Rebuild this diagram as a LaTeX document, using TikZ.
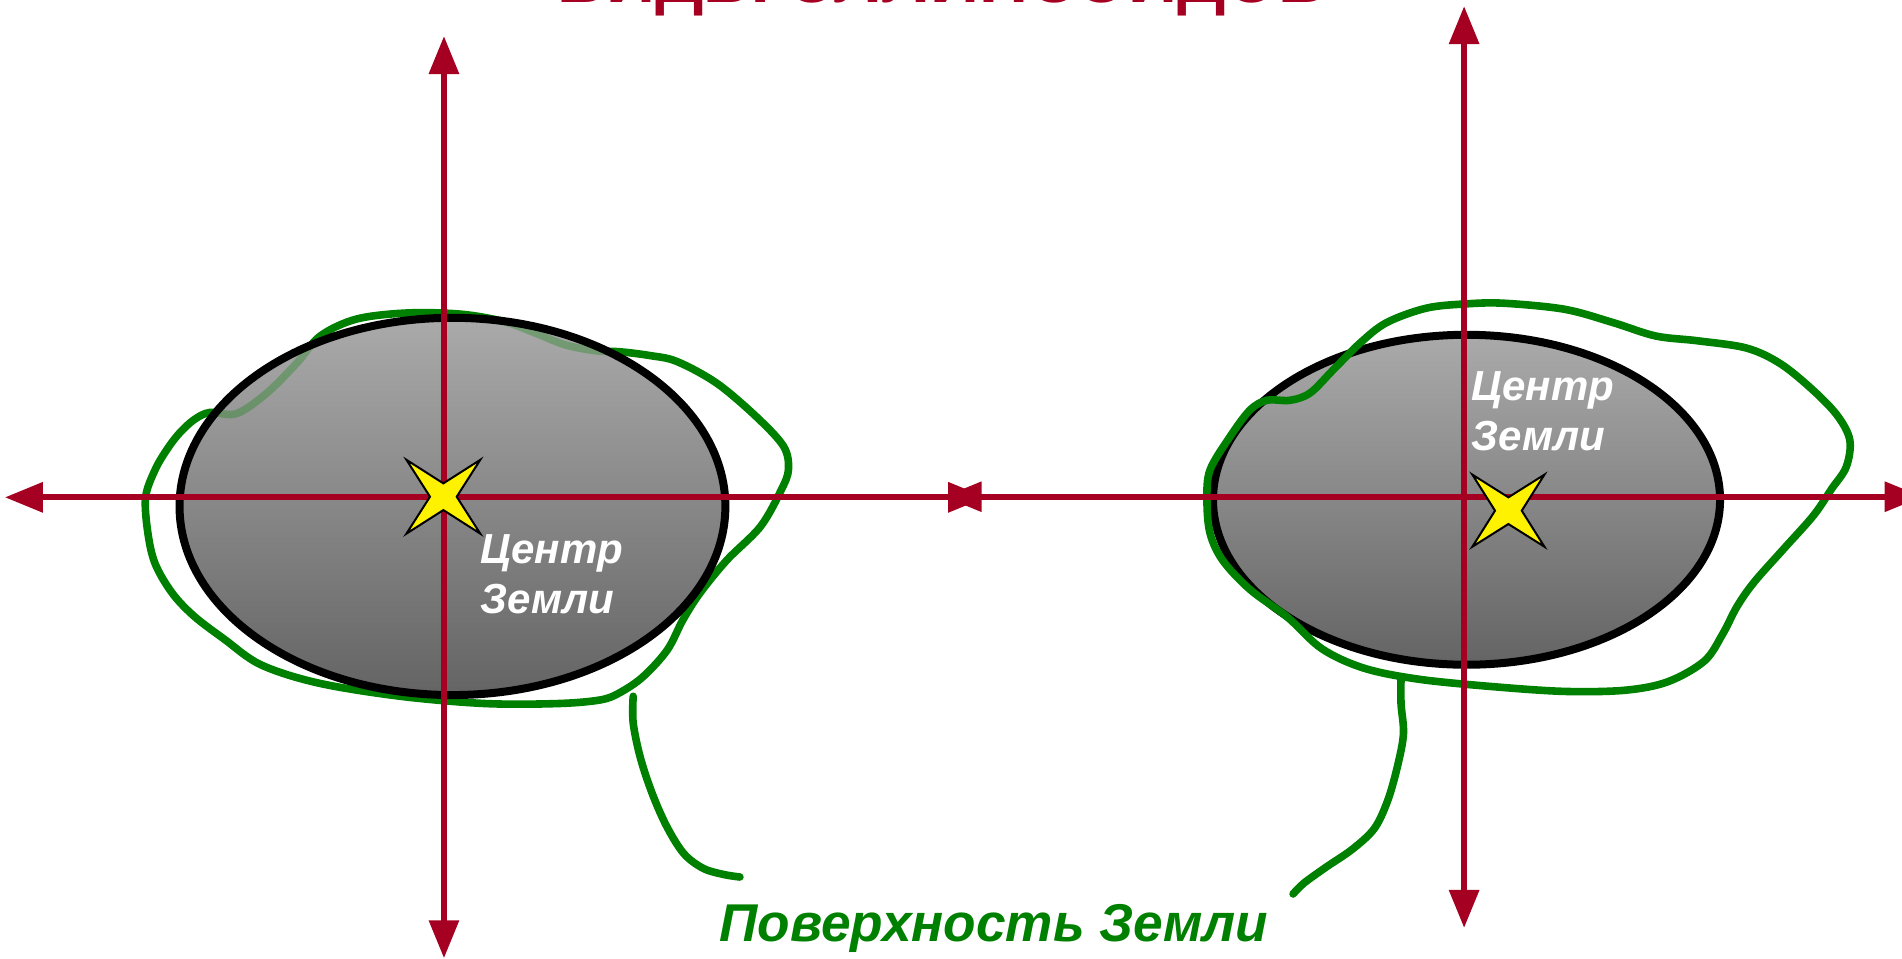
\documentclass[tikz,border=0pt]{standalone}
\usepackage{fontspec}
\setmainfont{Liberation Sans}
\usetikzlibrary{arrows.meta,shapes.geometric}
\definecolor{axisred}{RGB}{165,0,33}
\definecolor{surfgreen}{RGB}{0,128,0}
\definecolor{geotop}{RGB}{170,170,170}
\definecolor{geobot}{RGB}{100,100,100}
\begin{document}
\begin{tikzpicture}[x=0.6065pt,y=-0.6065pt,
  axis/.style={draw=axisred, line width=3.1pt,
    {Triangle[length=19pt,width=14.5pt]}-{Triangle[length=19pt,width=14.5pt]}},
  geoid/.style={ellipse, inner sep=0pt, top color=geotop, bottom color=geobot},
  rim/.style={draw=black, line width=4pt},
  surface/.style={draw=surfgreen, line width=3.8pt, line join=round, line cap=round},
  centre/.style={draw=black, line width=1pt, line join=miter, fill=yellow},
  centrelabel/.style={anchor=north west, inner sep=0pt, align=left, text=white,
    font=\fontsize{21pt}{25pt}\selectfont\bfseries\itshape},
]
\useasboundingbox (0,0) rectangle (1568,790.6);
\clip (0,0) rectangle (1568,790.6);

% heading, cut by the top edge
\node[anchor=base, inner sep=0pt, text=axisred,
      font=\fontsize{34pt}{40pt}\selectfont\bfseries] (title) at (777,1.8)
  {ВИДЫ ЭЛЛИПСОИДОВ};

% ---------- left figure ----------
\node[geoid, minimum width=272.9pt, minimum height=188.6pt]
  (geoidL) at (373,417.5) {};

\draw[surface] plot[smooth cycle, tension=0.55] coordinates {
  (120,410) (128,387) (138,370) (148,357) (160,346) (173,340) (195,341)
  (220,324) (245,299) (264,277) (294,263) (336,258) (380,259) (415,265)
  (440,274) (465,284) (490,289) (511,290) (535,293) (558,298) (591,316)
  (624,344) (646,368) (650,387) (644,404) (627,434) (599,462) (577,489)
  (563,511) (550,536) (530,558) (511,571) (495,577) (460,580) (400,580)
  (330,574) (262,563) (215,548) (185,527) (160,508) (142,489) (128,465)
  (122,440)};
\draw[surface] plot[smooth, tension=0.55] coordinates {
  (522,574) (522,596) (528,625) (538,655) (550,682) (564,704) (580,716)
  (597,721) (610,723)};

% translucent body over the part of the surface that dips inside
\path[top color=geotop, bottom color=geobot, fill opacity=0.7]
  (geoidL.center) ellipse [x radius=225, y radius=155.5];
\path[rim] (geoidL.center) ellipse [x radius=225, y radius=155.5];

\coordinate (lW) at (4,410);
\coordinate (lE) at (813,410);
\coordinate (lN) at (366,29.7);
\coordinate (lS) at (366,790);
\draw[axis] (lW) -- (lE);
\draw[axis] (lN) -- (lS);

\draw[centre, shift={(365.5,409.5)}]
  (45:43) -- (90:11) -- (135:43) -- (180:11) -- (225:43) -- (270:11)
  -- (315:43) -- (0:11) -- cycle;
\node[centrelabel] (textL) at (396,440) {Центр\\Земли};

% ---------- right figure ----------
\node[geoid, minimum width=253.5pt, minimum height=165pt]
  (geoidR) at (1209,412) {};
\path[rim] (geoidR.center) ellipse [x radius=209, y radius=136];

\draw[surface] plot[smooth cycle, tension=0.55] coordinates {
  (995,412) (997.5,387.5) (1014,360) (1030.5,338) (1044.5,330) (1063.5,330)
  (1080,324) (1099,305) (1121,283) (1143,266) (1176,254) (1209,250.5)
  (1240,250) (1290,255) (1330,266) (1365,277) (1400,281) (1440,287)
  (1468,300) (1495,322) (1515,343) (1525,363) (1522,385) (1510,403)
  (1495,425) (1470,453) (1446,480) (1432,500) (1420,523) (1405,545)
  (1375,562) (1340,569) (1290,570) (1230,566) (1170,560) (1125,551)
  (1090,535) (1061,508.5) (1030.5,486) (1008,462) (997.5,439.5)};
\draw[surface] plot[smooth, tension=0.55] coordinates {
  (1155,558) (1155,580) (1157,605) (1152,632) (1144,660) (1133,683)
  (1115,700) (1093,715) (1075,728) (1066,737)};

\coordinate (rW) at (778,409.5);
\coordinate (rE) at (1585,409.5);
\coordinate (rN) at (1207,5);
\coordinate (rS) at (1207,765);
\draw[axis] (rW) -- (rE);
\draw[axis] (rN) -- (rS);

\draw[centre, shift={(1243.5,421)}]
  (45:42) -- (90:11) -- (135:42) -- (180:11) -- (225:42) -- (270:11)
  -- (315:42) -- (0:11) -- cycle;
\node[centrelabel] (textR) at (1213,306) {Центр\\Земли};

% caption under both figures
\node[anchor=north west, inner sep=0pt, text=surfgreen,
      font=\fontsize{26.6pt}{30pt}\selectfont\bfseries\itshape] (surfacelabel)
  at (593,745) {Поверхность Земли};
\end{tikzpicture}
\end{document}
